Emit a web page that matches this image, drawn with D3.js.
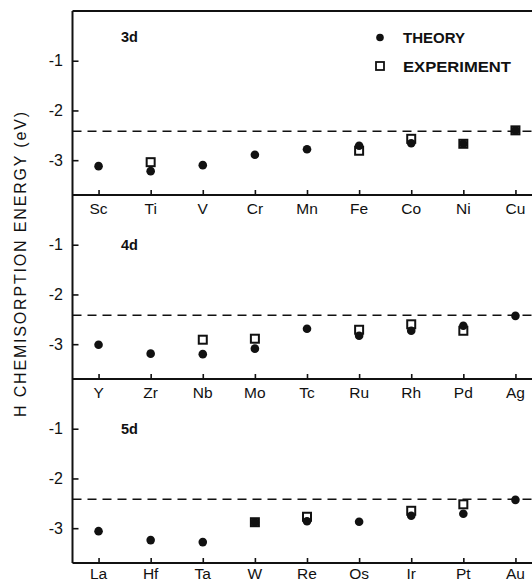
<!DOCTYPE html>
<html>
<head>
<meta charset="utf-8">
<script src="https://cdn.jsdelivr.net/npm/d3@7.9.0/dist/d3.min.js"></script>
<style>
  body { margin: 0; background: #fff; }
  text { font-family: "Liberation Sans", Arial, sans-serif; fill: #111; }
</style>
</head>
<body>
<svg id="chart" width="532" height="583"></svg>
<script>
// element rows
const elements3d = ["Sc", "Ti", "V", "Cr", "Mn", "Fe", "Co", "Ni", "Cu"];
const elements4d = ["Y", "Zr", "Nb", "Mo", "Tc", "Ru", "Rh", "Pd", "Ag"];
const elements5d = ["La", "Hf", "Ta", "W", "Re", "Os", "Ir", "Pt", "Au"];

// chemisorption energies (eV), null = no point
const theory3d = [-3.12, -3.22, -3.10, -2.89, -2.78, -2.71, -2.66, -2.67, -2.40];
const exp3d = [null, -3.04, null, null, null, -2.81, -2.57, -2.67, -2.40];
const theory4d = [-3.01, -3.19, -3.20, -3.09, -2.69, -2.83, -2.73, -2.63, -2.43];
const exp4d = [null, null, -2.91, -2.89, null, -2.71, -2.60, -2.73, null];
const theory5d = [-3.06, -3.24, -3.28, -2.88, -2.86, -2.87, -2.75, -2.71, -2.43];
const exp5d = [null, null, null, -2.88, -2.77, null, -2.65, -2.52, null];

const rowLabels = ["3d", "4d", "5d"];
const yTicks = [-1, -2, -3];
const refLine = -2.42; // dashed reference level

const svg = d3.select("#chart");
const left = 72.5, right = 541.5;
const panelH = 184;
const tops = [11, 195, 379];

const rows = [
  { names: elements3d, theory: theory3d, exp: exp3d },
  { names: elements4d, theory: theory4d, exp: exp4d },
  { names: elements5d, theory: theory5d, exp: exp5d },
];

rows.forEach((row, r) => {
  const top = tops[r];
  const x = d3.scalePoint().domain(row.names).range([left, right]).padding(0.5);
  const y = d3.scaleLinear().domain([0, -3.7]).range([top, top + panelH]);

  const g = svg.append("g");

  // top border only on first panel
  if (r === 0) {
    g.append("line")
      .attr("x1", left).attr("x2", 532)
      .attr("y1", top).attr("y2", top)
      .attr("stroke", "#111").attr("stroke-width", 2);
  }

  // left axis, ticks inward
  const yAxis = d3.axisRight(y).tickValues(yTicks).tickSize(6).tickFormat("");
  g.append("g").attr("transform", `translate(${left},0)`).call(yAxis)
    .call((s) => s.select(".domain").remove())
    .selectAll("line").attr("stroke", "#111").attr("stroke-width", 1.6);
  g.append("line")
    .attr("x1", left).attr("x2", left)
    .attr("y1", top).attr("y2", top + panelH)
    .attr("stroke", "#111").attr("stroke-width", 2);

  yTicks.forEach((t) => {
    g.append("text")
      .attr("x", 63).attr("y", y(t) + 5.5)
      .attr("text-anchor", "end")
      .attr("font-size", 16)
      .text(String(t));
  });

  // bottom axis with element labels below
  const xAxis = d3.axisTop(x).tickSize(5).tickFormat("");
  g.append("g").attr("transform", `translate(0,${top + panelH})`).call(xAxis)
    .call((s) => s.select(".domain").remove())
    .selectAll("line").attr("stroke", "#111").attr("stroke-width", 1.6);
  g.append("line")
    .attr("x1", left).attr("x2", 532)
    .attr("y1", top + panelH).attr("y2", top + panelH)
    .attr("stroke", "#111").attr("stroke-width", 2);

  // last row sits at the page edge, so keep it just inside
  const labY = r === 2 ? 579 : top + panelH + 19;
  g.selectAll(".elab").data(row.names).join("text")
    .attr("x", (d) => x(d)).attr("y", labY)
    .attr("text-anchor", "middle")
    .attr("font-size", 15.5)
    .text((d) => d);

  // dashed reference
  g.append("line")
    .attr("x1", left).attr("x2", 532)
    .attr("y1", y(refLine)).attr("y2", y(refLine))
    .attr("stroke", "#111").attr("stroke-width", 1.5)
    .attr("stroke-dasharray", "9,6");

  // row label
  g.append("text")
    .attr("x", 121).attr("y", r === 0 ? top + 31 : top + 55)
    .attr("font-size", 14.5).attr("font-weight", "bold")
    .text(rowLabels[r]);

  // experiment: open squares
  const expPts = row.names.map((n, i) => ({ n, v: row.exp[i] })).filter((d) => d.v !== null);
  g.selectAll(".exp").data(expPts).join("rect")
    .attr("x", (d) => x(d.n) - 4).attr("y", (d) => y(d.v) - 4)
    .attr("width", 8).attr("height", 8)
    .attr("fill", "none").attr("stroke", "#111").attr("stroke-width", 2);

  // theory: filled dots
  const thPts = row.names.map((n, i) => ({ n, v: row.theory[i] }));
  g.selectAll(".th").data(thPts).join("circle")
    .attr("cx", (d) => x(d.n)).attr("cy", (d) => y(d.v))
    .attr("r", 4.3).attr("fill", "#111");
});

// legend
const lg = svg.append("g");
lg.append("circle").attr("cx", 380).attr("cy", 37.5).attr("r", 3.8).attr("fill", "#111");
lg.append("rect").attr("x", 376).attr("y", 62).attr("width", 8).attr("height", 8)
  .attr("fill", "none").attr("stroke", "#111").attr("stroke-width", 1.8);
lg.append("text").attr("x", 403).attr("y", 43)
  .attr("font-size", 14.5).attr("font-weight", "bold")
  .attr("textLength", 62).attr("lengthAdjust", "spacingAndGlyphs")
  .text("THEORY");
lg.append("text").attr("x", 403).attr("y", 71.5)
  .attr("font-size", 14.5).attr("font-weight", "bold")
  .attr("textLength", 108).attr("lengthAdjust", "spacingAndGlyphs")
  .text("EXPERIMENT");

// y axis title
svg.append("text")
  .attr("transform", "translate(26,264.5) rotate(-90)")
  .attr("text-anchor", "middle")
  .attr("font-size", 16)
  .attr("textLength", 305).attr("lengthAdjust", "spacing")
  .text("H CHEMISORPTION  ENERGY (eV)");
</script>
</body>
</html>
